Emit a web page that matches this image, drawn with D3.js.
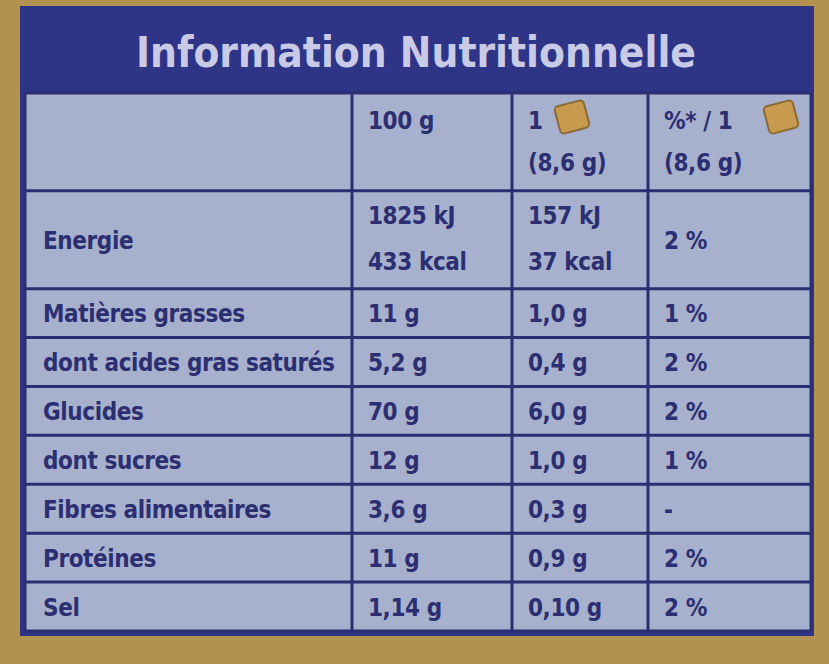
<!DOCTYPE html>
<html><head><meta charset="utf-8">
<script src="https://cdn.jsdelivr.net/npm/d3@7"></script>
<style>body{margin:0;background:#b39250}</style></head>
<body><svg id="c" width="829" height="664"></svg>
<script>
const title = "Information Nutritionnelle";
const headers = [["", ""], ["100 g", ""], ["1", "(8,6 g)"], ["%* / 1", "(8,6 g)"]];
const nutrients = ["Energie","Matières grasses","dont acides gras saturés","Glucides","dont sucres","Fibres alimentaires","Protéines","Sel"];
const per100 = [["1825 kJ","433 kcal"],"11 g","5,2 g","70 g","12 g","3,6 g","11 g","1,14 g"];
const perPortion = [["157 kJ","37 kcal"],"1,0 g","0,4 g","6,0 g","1,0 g","0,3 g","0,9 g","0,10 g"];
const pctRI = ["2 %","1 %","2 %","2 %","1 %","-","2 %","2 %"];
const rowUnits = [2,2,1,1,1,1,1,1,1];
const colEdges = [0,1,2,3,4];

const svg = d3.select("#c");
const font = "'Liberation Sans Narrow','DejaVu Sans Condensed','Open Sans',sans-serif";
const navy = "#2b2f72";
svg.append("rect").attr("width",829).attr("height",664).attr("fill","#b39250");
svg.append("rect").attr("x",20).attr("y",6).attr("width",794).attr("height",630).attr("fill","#2e3587");
svg.append("rect").attr("x",25).attr("y",93).attr("width",786).attr("height",538).attr("fill","#a7b0cc");
svg.append("text").attr("x",416).attr("y",67).attr("text-anchor","middle")
  .attr("font-family",font).attr("font-weight","bold").attr("font-size",42)
  .attr("fill","#c9cbe6").text(title);

const x = d3.scaleLinear().domain([0,1,2,3,4]).range([25,352,512,648,811]);
const cum = [0]; rowUnits.forEach(u=>cum.push(cum[cum.length-1]+u));
const y = d3.scaleLinear().domain([0,cum[cum.length-1]]).range([93,631]);
const g = svg.append("g");
cum.forEach(c=>g.append("line").attr("x1",x(0)).attr("x2",x(4)).attr("y1",y(c)).attr("y2",y(c)).attr("stroke",navy).attr("stroke-width",3));
colEdges.forEach(c=>g.append("line").attr("x1",x(c)).attr("x2",x(c)).attr("y1",y(0)).attr("y2",y(cum[cum.length-1])).attr("stroke",navy).attr("stroke-width",3));

function txt(xx,yy,t,maxW){const e=g.append("text").attr("x",xx).attr("y",yy)
  .attr("font-family",font).attr("font-weight","bold").attr("font-size",24).attr("letter-spacing",-0.4).attr("fill",navy).text(t);
  if(maxW){const w=e.node().getComputedTextLength(); if(w>maxW) e.attr("textLength",maxW).attr("lengthAdjust","spacingAndGlyphs");}}
function biscuit(xx,yy){g.append("rect").attr("x",xx).attr("y",yy).attr("width",30).attr("height",28).attr("rx",4)
  .attr("fill","#c79a4e").attr("stroke","#8a6a35").attr("stroke-width",2).attr("transform",`rotate(-15 ${xx+15} ${yy+14})`);}
headers.forEach((h,i)=>{ if(!h[0])return; txt(x(i)+16,y(0)+36,h[0]); if(h[1]) txt(x(i)+16,y(0)+78,h[1]); });
biscuit(x(2)+45,y(0)+10); biscuit(x(3)+118,y(0)+10);
nutrients.forEach((n,i)=>{
  const r=i+1, top=y(cum[r]), bot=y(cum[r+1]), mid=(top+bot)/2+9;
  txt(x(0)+18,mid,n,x(1)-x(0)-26);
  [per100[i],perPortion[i]].forEach((v,j)=>{
    if(Array.isArray(v)){txt(x(j+1)+16,top+33,v[0]);txt(x(j+1)+16,top+79,v[1]);}
    else txt(x(j+1)+16,mid,v);
  });
  txt(x(3)+16,mid,pctRI[i]);
});
</script></body></html>
